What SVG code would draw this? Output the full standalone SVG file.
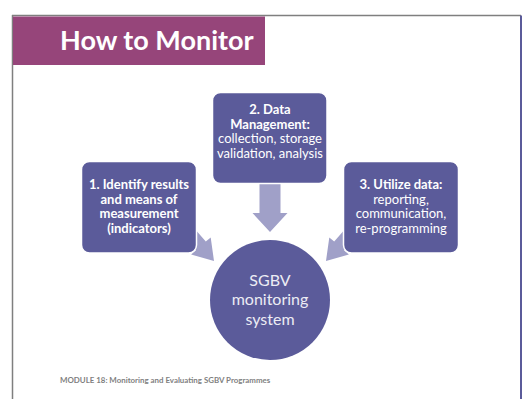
<svg xmlns="http://www.w3.org/2000/svg" width="522" height="399" viewBox="0 0 522 399">
<style>
.box{fill:#5B5B9A;stroke:#FFFFFF;stroke-width:1.5}
.arrow{fill:#A0A0C8}
.t{font-family:Lato,"Liberation Sans",sans-serif;font-size:13px;fill:#FFFFFF;text-anchor:middle}
.b{font-weight:bold}
.c{font-family:Lato,"Liberation Sans",sans-serif;font-size:16px;fill:#ECECF4;text-anchor:middle}
</style>
<rect x="0" y="0" width="522" height="399" fill="#FFFFFF"/>
<g id="frame">
<line x1="12" y1="15.5" x2="521" y2="15.5" stroke="#7F7F7F" stroke-width="1.5"/>
<line x1="12.5" y1="15" x2="12.5" y2="399" stroke="#7F7F7F" stroke-width="1.5"/>
<rect x="520" y="15.5" width="2" height="383.5" fill="#5B5B9A"/>
</g>
<g id="title">
<rect x="13" y="16.5" width="252" height="48.5" fill="#96457A"/>
<text x="60" y="49.5" font-family="Lato,'Liberation Sans',sans-serif" font-size="27px" font-weight="bold" fill="#FFFFFF">How to Monitor</text>
</g>
<g id="connectors">
<polygon class="arrow" points="259.5,180 280.5,180 280.5,213 287.5,213 270,232 252.5,213 259.5,213"/>
<polygon class="arrow" points="189.4,222.7 179.6,231.3 196,250.2 191.1,254.4 214,261 210.7,237.4 205.8,241.6"/>
<polygon class="arrow" points="350.6,222.7 360.4,231.3 344,250.2 348.9,254.4 326,261 329.3,237.4 334.2,241.6"/>
</g>
<g id="node1">
<rect class="box" x="81.5" y="161.5" width="115" height="91.5" rx="8"/>
<text class="t b" x="139" y="189">1. Identify results</text>
<text class="t b" x="139" y="203.5">and means of</text>
<text class="t b" x="139" y="218">measurement</text>
<text class="t b" x="139" y="232.5">(indicators)</text>
</g>
<g id="node2">
<rect class="box" x="212.5" y="92.5" width="114.5" height="91" rx="8"/>
<text class="t b" x="270" y="114">2. Data</text>
<text class="t b" x="270" y="128.5">Management:</text>
<text class="t" x="270" y="143">collection, storage</text>
<text class="t" x="270" y="157.5">validation, analysis</text>
</g>
<g id="node3">
<rect class="box" x="343.5" y="161.5" width="115" height="91.5" rx="8"/>
<text class="t b" x="401" y="189">3. Utilize data:</text>
<text class="t" x="401" y="203.5">reporting,</text>
<text class="t" x="401" y="218">communication,</text>
<text class="t" x="401" y="232.5">re-programming</text>
</g>
<g id="center">
<circle cx="270" cy="300" r="60" fill="#5B5B9A"/>
<text class="c" x="270" y="286">SGBV</text>
<text class="c" x="270" y="305.4">monitoring</text>
<text class="c" x="270" y="324.8">system</text>
</g>
<g id="footer">
<text x="60" y="383" font-family="Lato,'Liberation Sans',sans-serif" font-size="7.9px" font-weight="bold" fill="#7F7F7F">MODULE 18: Monitoring and Evaluating SGBV Programmes</text>
</g>
</svg>
